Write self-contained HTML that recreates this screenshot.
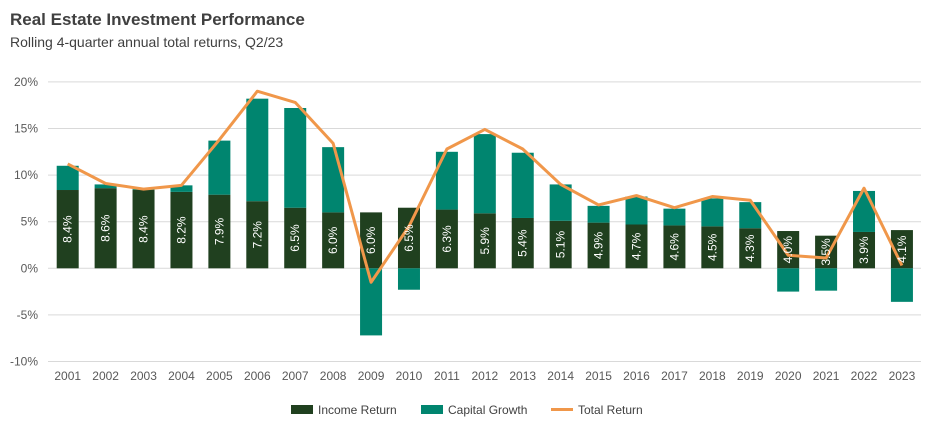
<!DOCTYPE html>
<html><head><meta charset="utf-8"><style>
body{margin:0;background:#fff;font-family:"Liberation Sans",sans-serif;}
svg{display:block}
</style></head><body>
<svg width="952" height="432" viewBox="0 0 952 432">
<text x="10" y="25" font-size="17" font-weight="bold" fill="#404040">Real Estate Investment Performance</text>
<text x="10" y="47" font-size="14" fill="#404040">Rolling 4-quarter annual total returns, Q2/23</text>
<g id="grid"></g><g id="bars"></g><g id="line"></g><g id="labels"></g>
<g font-size="12" fill="#404040">
<rect x="291" y="405" width="22" height="9" fill="#20401f"/>
<text x="318" y="414">Income Return</text>
<rect x="421" y="405" width="22" height="9" fill="#00856f"/>
<text x="448" y="414">Capital Growth</text>
<line x1="551" y1="409.5" x2="573" y2="409.5" stroke="#f0974a" stroke-width="3"/>
<text x="578" y="414">Total Return</text>
</g>
</svg>
<script>
const years=["2001","2002","2003","2004","2005","2006","2007","2008","2009","2010","2011","2012","2013","2014","2015","2016","2017","2018","2019","2020","2021","2022","2023"];
const incomeReturn=[8.4,8.6,8.4,8.2,7.9,7.2,6.5,6.0,6.0,6.5,6.3,5.9,5.4,5.1,4.9,4.7,4.6,4.5,4.3,4.0,3.5,3.9,4.1];
const capitalGrowth=[2.6,0.4,0.1,0.7,5.8,11.0,10.7,7.0,-7.2,-2.3,6.2,8.5,7.0,3.9,1.8,3.0,1.8,3.0,2.8,-2.5,-2.4,4.4,-3.6];
const totalReturn=[11.2,9.1,8.5,8.9,13.8,19.0,17.8,13.4,-1.5,4.5,12.8,14.9,12.8,9.0,6.8,7.8,6.5,7.7,7.3,1.4,1.1,8.6,0.3];
const yTicks=[-10,-5,0,5,10,15,20];
const NS="http://www.w3.org/2000/svg";
const y=v=>268.3-v*9.32;
const x=i=>67.7+i*37.92;
const bw=22;
function mk(t,a,p){const e=document.createElementNS(NS,t);for(const k in a)e.setAttribute(k,a[k]);p.appendChild(e);return e;}
const grid=document.getElementById('grid'),bars=document.getElementById('bars'),line=document.getElementById('line'),labels=document.getElementById('labels');
yTicks.forEach(v=>{
 const l=mk('line',{x1:48,x2:921,y1:y(v),y2:y(v),stroke:'#d9d9d9','stroke-width':1},grid);
 
 
 const t=mk('text',{x:38,y:y(v)+4,'text-anchor':'end','font-size':12,fill:'#595959'},grid);
 t.textContent=v+'%';
 
 
});
years.forEach((yr,i)=>{
 const cx=x(i),inc=incomeReturn[i],cap=capitalGrowth[i];
 const r=mk('rect',{x:cx-bw/2,y:y(inc),width:bw,height:y(0)-y(inc),fill:'#20401f'},bars);
 
 
 let y1,y2;
 if(cap>=0){y1=y(inc+cap);y2=y(inc);}else{y1=y(0);y2=y(cap);}
 const c=mk('rect',{x:cx-bw/2,y:y1,width:bw,height:y2-y1,fill:'#00856f'},bars);
 
 
 const my=(y(inc)+y(0))/2;
 const t=mk('text',{x:cx,y:my,'text-anchor':'middle','dominant-baseline':'central','font-size':12,fill:'#fff',transform:`rotate(-90 ${cx} ${my})`},labels);
 t.textContent=inc.toFixed(1)+'%';
 
 
 const xt=mk('text',{x:cx,y:380,'text-anchor':'middle','font-size':12,fill:'#595959'},labels);
 xt.textContent=yr;
 
 
});
const pl=mk('polyline',{points:totalReturn.map((v,i)=>x(i)+','+y(v)).join(' '),fill:'none',stroke:'#f0974a','stroke-width':3,'stroke-linejoin':'round'},line);


</script>
</body></html>
